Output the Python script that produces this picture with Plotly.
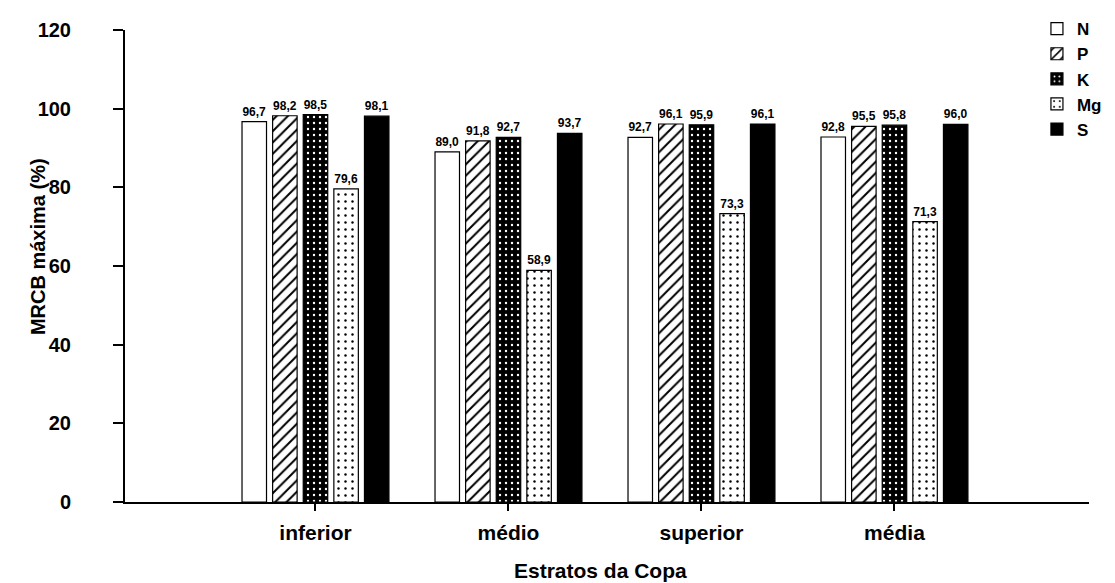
import plotly.graph_objects as go

categories = ["inferior", "médio", "superior", "média"]
series_names = ["N", "P", "K", "Mg", "S"]
N_vals = [96.7, 89.0, 92.7, 92.8]
P_vals = [98.2, 91.8, 96.1, 95.5]
K_vals = [98.5, 92.7, 95.9, 95.8]
Mg_vals = [79.6, 58.9, 73.3, 71.3]
S_vals = [98.1, 93.7, 96.1, 96.0]
y_ticks = [0, 20, 40, 60, 80, 100, 120]

FONT = "Liberation Sans, Arial, sans-serif"

styles = {
    "N": dict(color="white", pattern=dict(shape="")),
    "P": dict(color="white", pattern=dict(shape="/", fgcolor="black", bgcolor="white",
                                           size=8, solidity=0.25, fillmode="replace")),
    "K": dict(color="black", pattern=dict(shape=".", fgcolor="white", bgcolor="black",
                                           size=6, solidity=0.12, fillmode="replace")),
    "Mg": dict(color="white", pattern=dict(shape=".", fgcolor="black", bgcolor="white",
                                            size=7, solidity=0.1, fillmode="replace")),
    "S": dict(color="black", pattern=dict(shape="")),
}

data = {"N": N_vals, "P": P_vals, "K": K_vals, "Mg": Mg_vals, "S": S_vals}

fig = go.Figure()
for name in series_names:
    vals = data[name]
    st = styles[name]
    fig.add_trace(go.Bar(
        x=categories, y=vals, name=name,
        marker=dict(color=st["color"], pattern=st["pattern"],
                    line=dict(color="black", width=1.2)),
        text=[f"{v:.1f}".replace(".", ",") for v in vals],
        textposition="outside",
        textangle=0,
        constraintext="none",
        cliponaxis=False,
        outsidetextfont=dict(family=FONT, size=12, color="black", weight="bold"),
    ))

W, H = 1099, 575
L, R, T, B = 117, 18, 22, 81
PW, PH = W - L - R, H - T - B

fig.update_layout(
    width=W, height=H,
    barmode="group", bargap=0.207, bargroupgap=0.2,
    plot_bgcolor="white", paper_bgcolor="white",
    margin=dict(l=L, r=R, t=T, b=B, autoexpand=False),
    font=dict(family=FONT, color="black"),
    showlegend=True,
    legend=dict(x=0.946, y=1.04, xanchor="left", yanchor="top",
                font=dict(family=FONT, size=17, color="black", weight="bold"),
                bgcolor="rgba(0,0,0,0)", tracegroupgap=0),
    annotations=[
        dict(text="MRCB máxima (%)", xref="paper", yref="paper",
             x=(30 - L) / PW, y=0.54, xanchor="center", yanchor="middle",
             textangle=-90, showarrow=False,
             font=dict(family=FONT, size=20, color="black", weight="bold")),
        dict(text="Estratos da Copa", xref="paper", yref="paper",
             x=0.493, y=-(562 - (T + PH)) / PH, xanchor="center", yanchor="middle",
             showarrow=False,
             font=dict(family=FONT, size=21, color="black", weight="bold")),
    ],
)

fig.update_xaxes(
    type="category", range=[-0.987, 4.008], automargin=False,
    showline=True, linecolor="black", linewidth=2,
    ticks="outside", ticklen=7, tickwidth=1.5, tickcolor="black",
    ticklabelstandoff=4,
    showgrid=False, zeroline=False,
    tickfont=dict(family=FONT, size=21, color="black", weight="bold"),
)
fig.update_yaxes(
    range=[0, 120], tickvals=y_ticks, ticktext=[str(t) for t in y_ticks],
    automargin=False,
    showline=True, linecolor="black", linewidth=2,
    ticks="outside", ticklen=10, tickwidth=1.5, tickcolor="black",
    ticklabelstandoff=38,
    showgrid=False, zeroline=False,
    tickfont=dict(family=FONT, size=20, color="black", weight="bold"),
)

fig.write_html("out.html")
